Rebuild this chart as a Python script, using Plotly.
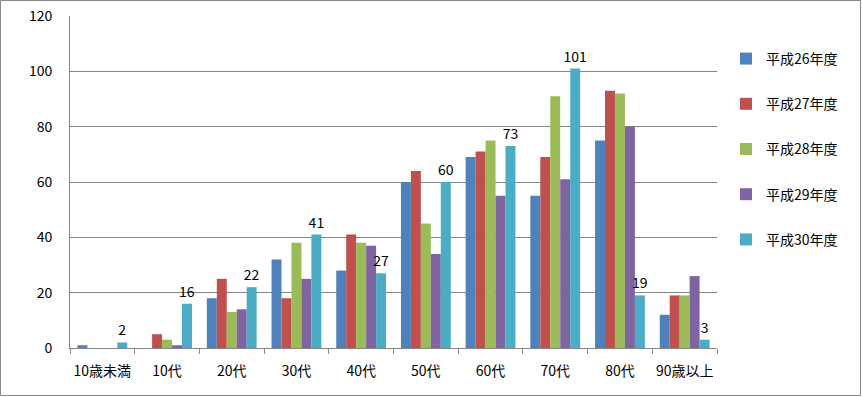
import plotly.graph_objects as go

categories = ["10歳未満", "10代", "20代", "30代", "40代", "50代", "60代", "70代", "80代", "90歳以上"]
series_names = ["平成26年度", "平成27年度", "平成28年度", "平成29年度", "平成30年度"]
h26 = [1, 0, 18, 32, 28, 60, 69, 55, 75, 12]
h27 = [0, 5, 25, 18, 41, 64, 71, 69, 93, 19]
h28 = [0, 3, 13, 38, 38, 45, 75, 91, 92, 19]
h29 = [0, 1, 14, 25, 37, 34, 55, 61, 80, 26]
h30 = [2, 16, 22, 41, 27, 60, 73, 101, 19, 3]
y_ticks = [0, 20, 40, 60, 80, 100, 120]

colors = ["#4F81BD", "#C0504D", "#9BBB59", "#8064A2", "#4BACC6"]
W, H = 862, 397
ml, mr, mt, mb = 70, 145, 16, 49
font = "Noto Sans CJK JP, Noto Sans, sans-serif"

fig = go.Figure()
for i, (name, vals) in enumerate(zip(series_names, [h26, h27, h28, h29, h30])):
    kw = {}
    if i == 4:
        kw = dict(text=vals, texttemplate="%{text}", textposition="outside", constraintext="none",
                  textfont=dict(size=14, color="#000000", family=font), cliponaxis=False)
    fig.add_trace(go.Bar(x=categories, y=vals, name=name, marker=dict(color=colors[i], line=dict(width=0)),
                         legendgroup=name, **kw))

pw = W - ml - mr
ph = H - mt - mb
fig.update_layout(
    width=W, height=H,
    margin=dict(l=ml, r=mr, t=mt, b=mb, autoexpand=False),
    paper_bgcolor="white", plot_bgcolor="white",
    barmode="group", bargap=0.23, bargroupgap=0,
    font=dict(family=font, size=14, color="#000000"),
    showlegend=True,
    legend=dict(x=(726 - ml) / pw, y=1 - (43 - mt) / ph, xanchor="left", yanchor="top",
                tracegroupgap=24, font=dict(size=14), bgcolor="rgba(0,0,0,0)", traceorder="grouped",
                itemwidth=30),
    xaxis=dict(type="category", showline=True, linecolor="#868686", linewidth=1,
               ticks="outside", tickson="boundaries", ticklen=5, tickcolor="#868686",
               showgrid=False, tickfont=dict(size=14), ticklabelstandoff=10, tickangle=0,
               fixedrange=True, automargin=False),
    yaxis=dict(range=[0, 120], tickvals=y_ticks, showline=True, linecolor="#868686", linewidth=1,
               showgrid=True, gridcolor="#868686", gridwidth=1, zeroline=False, ticks="",
               tickfont=dict(size=14), ticklabelstandoff=14, automargin=False, fixedrange=True),
    shapes=[dict(type="rect", xref="paper", yref="paper",
                 x0=-(ml - 0.5) / pw, x1=1 + (mr - 1.5) / pw,
                 y0=-(mb - 1.5) / ph, y1=1 + (mt - 0.5) / ph,
                 line=dict(color="#868686", width=1), fillcolor="rgba(0,0,0,0)", layer="above")],
)

fig.write_html("out.html", config={"displayModeBar": False},
               post_script="document.body.style.margin='0';document.body.style.overflow='hidden';")
